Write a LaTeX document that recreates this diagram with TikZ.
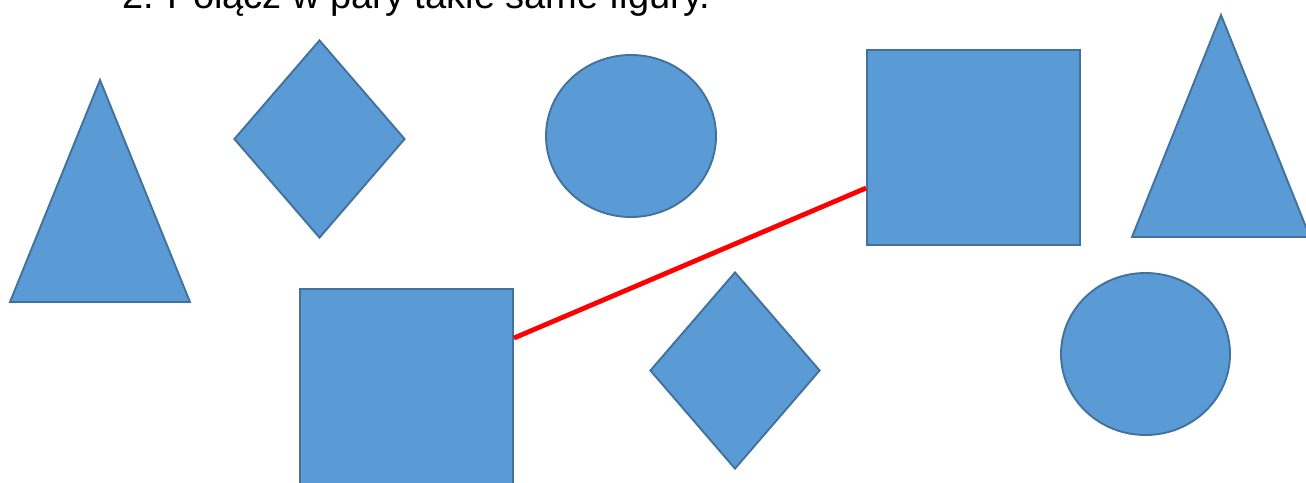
\documentclass[tikz,border=0pt]{standalone}
\usepackage{fontspec}
\setmainfont{Liberation Sans}
\usetikzlibrary{shapes.geometric}
\definecolor{figfill}{HTML}{5B9BD5}
\definecolor{figline}{HTML}{41719C}
\tikzset{
  figure/.style={draw=figline,fill=figfill,line width=1.9pt,inner sep=0pt},
  pairline/.style={draw=red,line width=4.8pt}
}
\begin{document}
\begin{tikzpicture}[x=1pt,y=-1pt]
\useasboundingbox (0,0) rectangle (1306,482);
\clip (0,0) rectangle (1306,482);

\node [anchor=base west,inner sep=0pt,font=\fontsize{38}{44}\selectfont](title) at (122,8) {2. Połącz w pary takie same figury.};

%top row
\draw [figure] (100,80) -- (190,302) -- (10,302) -- cycle;%left triangle
\node [figure,diamond,minimum width=171pt,minimum height=198pt](diamondA) at (319.5,139) {};
\node [figure,ellipse,minimum width=170pt,minimum height=162pt](circleA) at (631,136) {};
\node [figure,rectangle,minimum width=213pt,minimum height=195pt](squareA) at (973.5,147.5) {};
\draw [figure] (1221,15) -- (1310,237) -- (1132,237) -- cycle;%right triangle

%bottom row
\node [figure,rectangle,minimum width=213pt,minimum height=195pt](squareB) at (406.5,386.5) {};
\node [figure,diamond,minimum width=170pt,minimum height=197pt](diamondB) at (735,370.5) {};
\node [figure,ellipse,minimum width=169pt,minimum height=162pt](circleB) at (1145.5,354) {};

\draw [pairline] ([yshift=-50pt]squareB.north east) -- ([yshift=-139pt]squareA.north west);
\end{tikzpicture}
\end{document}
